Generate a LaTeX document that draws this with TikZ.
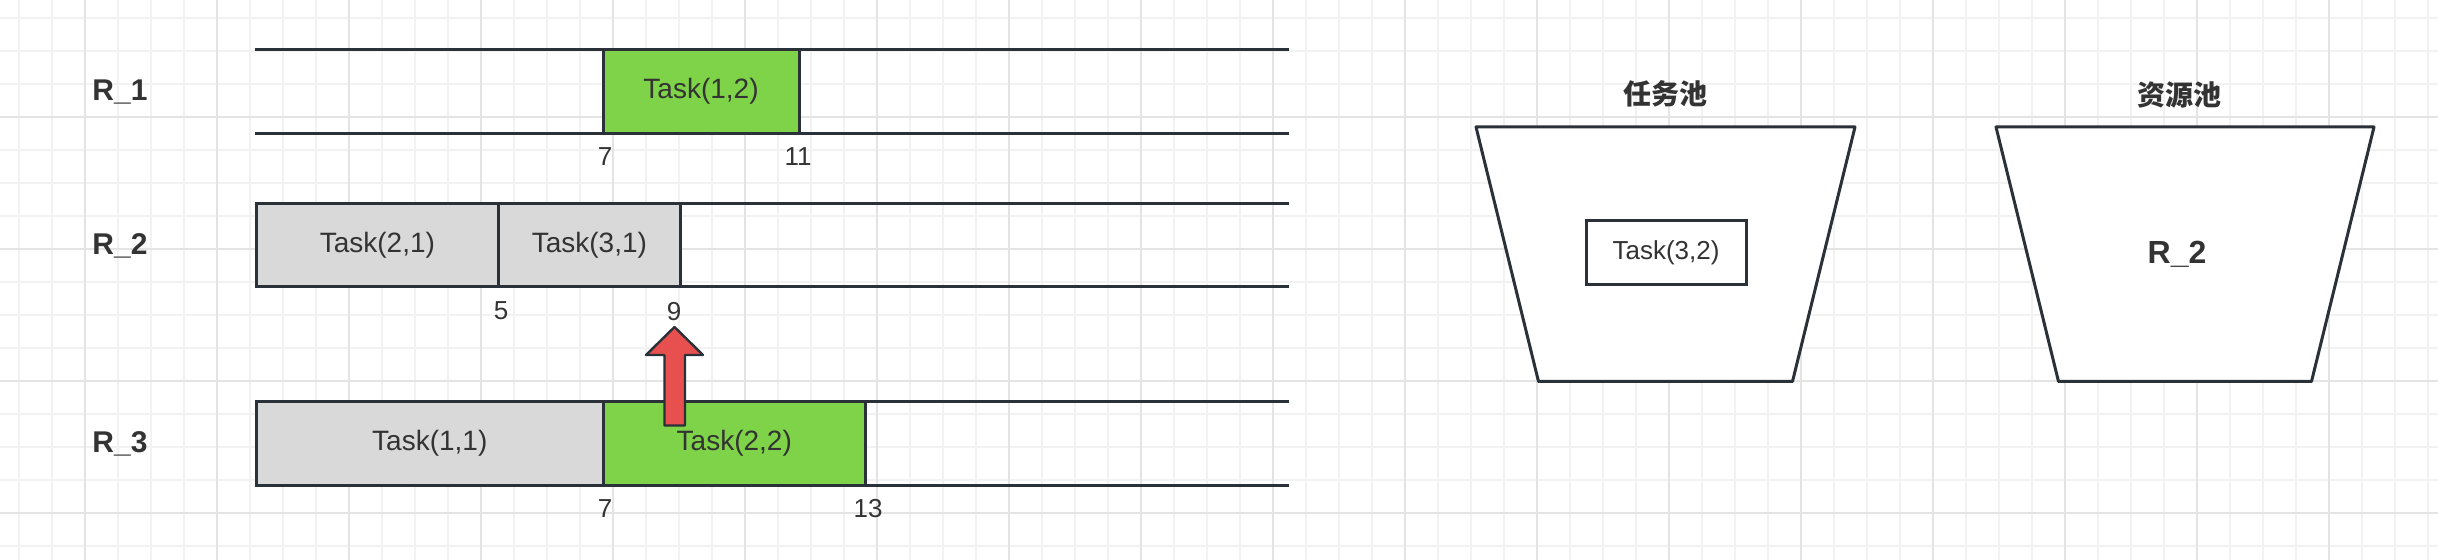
\documentclass[tikz,border=0pt]{standalone}
\usepackage{fontspec}
\setmainfont{Liberation Sans}
\newfontfamily\cjk{Noto Sans CJK SC}
\usetikzlibrary{arrows.meta,positioning}
\definecolor{ink}{HTML}{2B3138}
\definecolor{txt}{HTML}{333333}
\definecolor{busygreen}{HTML}{7ED348}
\definecolor{idlegray}{HTML}{D9D9D9}
\definecolor{arrowred}{HTML}{E85050}
\definecolor{gridminor}{HTML}{F2F2F2}
\definecolor{gridmajor}{HTML}{E4E4E4}

\begin{document}
\begin{tikzpicture}[x=0.5pt,y=-0.5pt,font=\fontsize{14pt}{16pt}\selectfont,text=txt]
\tikzstyle{lane}=[draw=ink,line width=1.5pt]
\tikzstyle{tk}=[draw=ink,line width=1.5pt,fill=idlegray,minimum height=41.75pt,inner sep=0pt,anchor=west]
\tikzstyle{busy}=[tk,fill=busygreen]
\tikzstyle{tick}=[font=\fontsize{13pt}{15pt}\selectfont]
\tikzstyle{lanelabel}=[font=\fontsize{15pt}{17pt}\selectfont\bfseries]
\tikzstyle{pool}=[draw=ink,line width=1.5pt,fill=white,line join=round]
\tikzstyle{pooltitle}=[font=\fontsize{14pt}{16pt}\selectfont\cjk\bfseries]
\useasboundingbox (0,0) rectangle (2438,560);
\fill[white] (0,0) rectangle (2438,560);
% background grid
\foreach \i in {0,...,73} \draw[gridminor,line width=1pt] (18.5+33*\i,0) -- (18.5+33*\i,560);
\foreach \j in {0,...,16} \draw[gridminor,line width=1pt] (0,18.5+33*\j) -- (2438,18.5+33*\j);
\foreach \i in {0,...,17} \draw[gridmajor,line width=1pt] (84.5+132*\i,0) -- (84.5+132*\i,560);
\foreach \j in {0,...,3} \draw[gridmajor,line width=1pt] (0,117.5+132*\j) -- (2438,117.5+132*\j);
% lanes
\foreach \y in {49.75,203.5,401.75} {
  \draw[lane] (255,\y) -- (1289,\y);
  \draw[lane] (255,\y+83.5) -- (1289,\y+83.5);
}
\node[lanelabel] (r1) at (120,92) {R\_1};
\node[lanelabel] (r2) at (120,246) {R\_2};
\node[lanelabel] (r3) at (120,443.5) {R\_3};
% tasks
\node[busy,minimum width=98pt] (t12) at (601.5,91.5) {Task(1,2)};
\node[tk,minimum width=120.85pt] (t21) at (255,245.25) {Task(2,1)};
\node[tk,minimum width=91.15pt] (t31) at (496.7,245.25) {Task(3,1)};
\node[tk,minimum width=173.25pt] (t11) at (255,443.5) {Task(1,1)};
\node[busy,minimum width=131.25pt] (t22) at (601.5,443.5) {Task(2,2)};
% time marks
\node[tick] (a7) at (605,157) {7};
\node[tick] (a11) at (798,157) {11};
\node[tick] (b5) at (501,311) {5};
\node[tick] (b9) at (674,312) {9};
\node[tick] (c7) at (605,509) {7};
\node[tick] (c13) at (868,509) {13};
% move arrow
\draw[ink,line width=1.2pt,fill=arrowred,line join=round] (664.5,425.5) -- (664.5,355) -- (646,355) -- (674.5,327) -- (703,355) -- (685,355) -- (685,425.5) -- cycle;
% pools
\draw[pool] (1476,127) -- (1855,127) -- (1792.5,381.5) -- (1538.5,381.5) -- cycle;
\draw[pool] (1996,127) -- (2374,127) -- (2311.5,381.5) -- (2058.5,381.5) -- cycle;
\node[pooltitle] (taskpool) at (1665,94) {任务池};
\node[pooltitle] (respool) at (2179,95) {资源池};
\node[draw=ink,line width=1.5pt,fill=white,minimum width=80pt,minimum height=32pt,font=\fontsize{13pt}{15pt}\selectfont] (t32) at (1666,253) {Task(3,2)};
\node[font=\fontsize{16pt}{18pt}\selectfont\bfseries] (free) at (2177,254) {R\_2};
\end{tikzpicture}
\end{document}
